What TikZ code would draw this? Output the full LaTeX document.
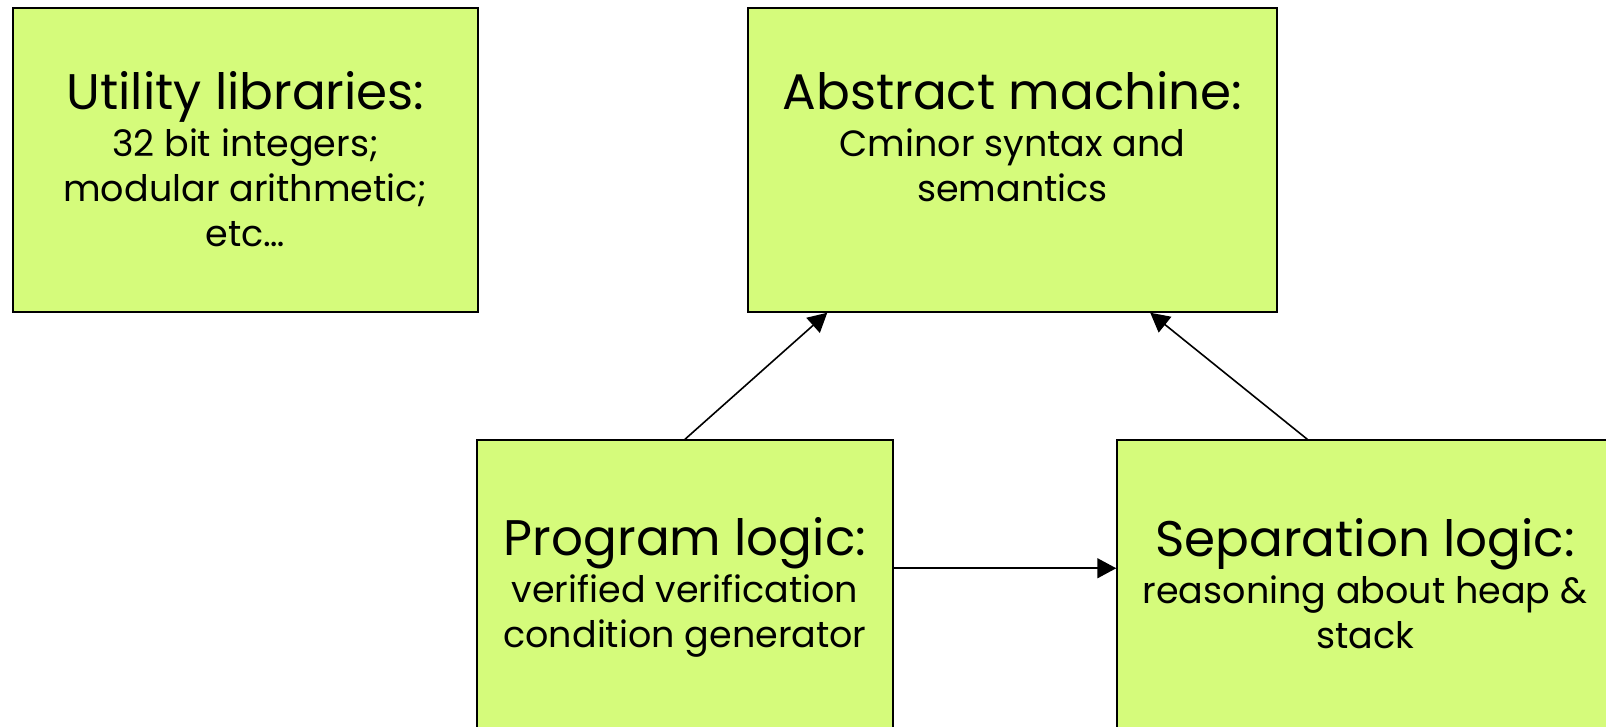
\documentclass[tikz,border=0pt]{standalone}
\usepackage{fontspec}
\setmainfont{Poppins}
\usetikzlibrary{calc,arrows.meta}
\definecolor{boxfill}{HTML}{D5FB7B}
\tikzset{
  box/.style={draw=black, line width=1.5pt, fill=boxfill, rectangle, inner sep=0pt},
  ttl/.style={anchor=base, inner sep=0pt, font=\fontsize{50}{56}\selectfont},
  sub/.style={anchor=base, inner sep=0pt, font=\fontsize{36.5}{42}\selectfont},
  conn/.style={draw=black, line width=1.6pt, -{Triangle[length=19pt,width=20pt]}}
}
\begin{document}
\begin{tikzpicture}[x=1pt,y=-1pt]
\clip (0,0) rectangle (1606,726);
\fill[white] (0,0) rectangle (1606,726);
\node[box, minimum width=465pt, minimum height=304pt] (util) at (245.5,160) {};
\node[box, minimum width=529pt, minimum height=304pt] (abs) at (1012.5,160) {};
\node[box, minimum width=416pt, minimum height=320pt] (prog) at (685,600) {};
\node[box, minimum width=560pt, minimum height=320pt] (sep) at (1397,600) {};

\node[ttl] (utilt) at ($(util.north)+(0,102)$) {Utility libraries:};
\node[sub] (util1) at ($(util.north)+(0,149)$) {32 bit integers;};
\node[sub] (util2) at ($(util.north)+(0,194)$) {modular arithmetic;};
\node[sub] (util3) at ($(util.north)+(0,239)$) {etc…};

\node[ttl] (abst) at ($(abs.north)+(0,102)$) {Abstract machine:};
\node[sub] (abs1) at ($(abs.north)+(0,149)$) {Cminor syntax and};
\node[sub] (abs2) at ($(abs.north)+(0,194)$) {semantics};

\node[ttl] (progt) at ($(prog.north)+(0,116)$) {Program logic:};
\node[sub] (prog1) at ($(prog.north)+(0,163)$) {verified verification};
\node[sub] (prog2) at ($(prog.north)+(0,208)$) {condition generator};

\node[ttl] (sept) at (1365,556) {Separation logic:};
\node[sub] (sep1) at (1365,603) {reasoning about heap \&};
\node[sub] (sep2) at (1365,648) {stack};

\coordinate (absL) at ($(abs.south west)+(80,0)$);
\coordinate (absR) at ($(abs.south west)+(403,0)$);
\coordinate (sepT) at ($(sep.north west)+(191,0)$);
\coordinate (progE) at ($(prog.north east)+(0,129)$);
\draw[conn] (prog.north) -- (absL);
\draw[conn] (sepT) -- (absR);
\draw[conn] (progE) -- (progE -| sep.west);
\end{tikzpicture}
\end{document}
